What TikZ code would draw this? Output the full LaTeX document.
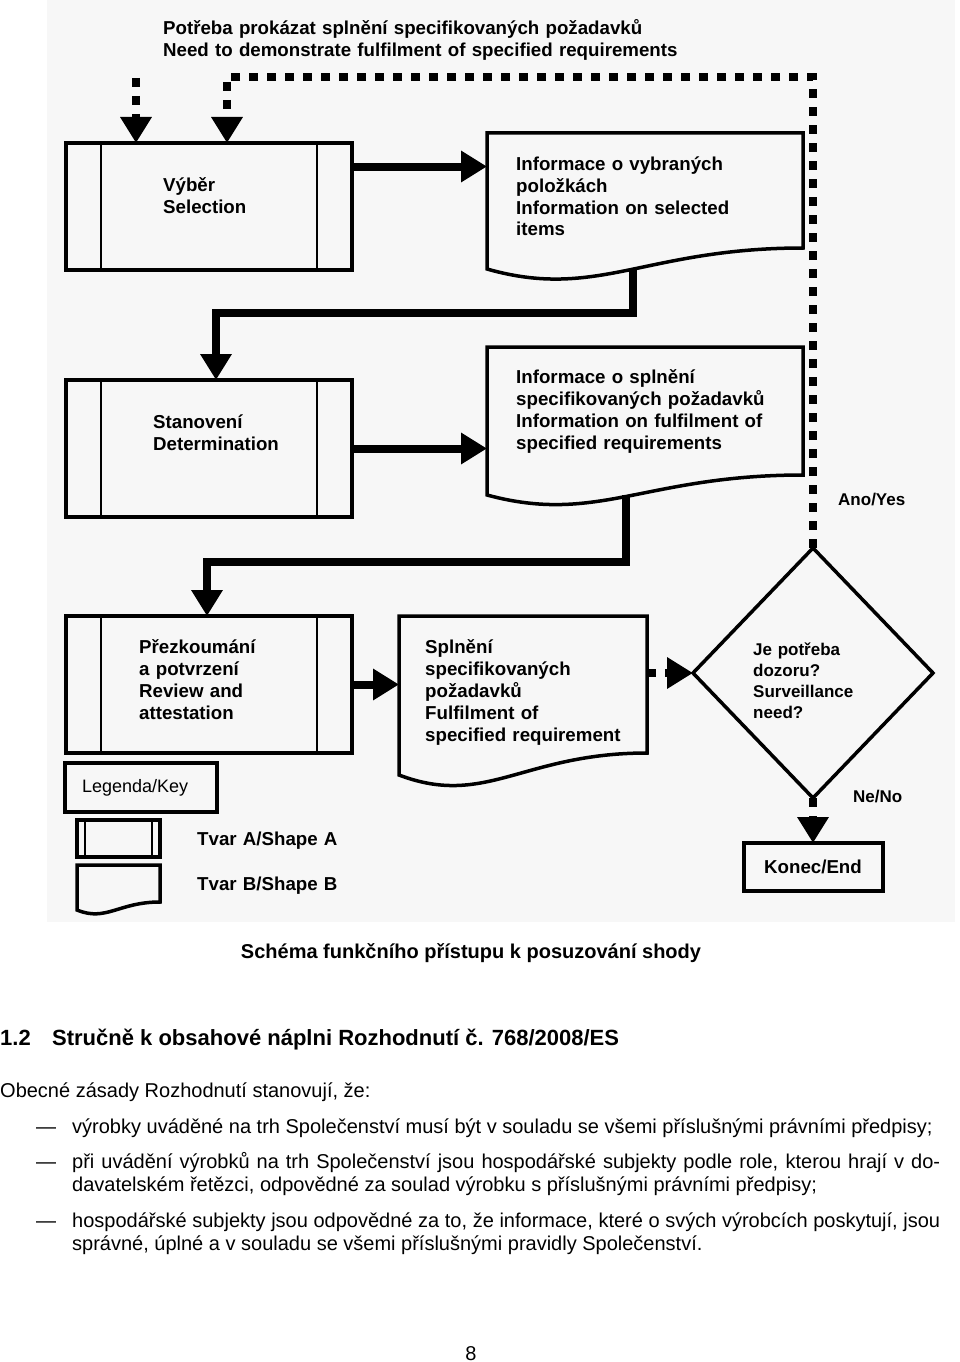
\documentclass[tikz,border=0pt]{standalone}
\usepackage{fontspec}
\setmainfont{Liberation Sans}
\usetikzlibrary{arrows.meta}
\usetikzlibrary{shapes.geometric}
\usetikzlibrary{positioning}
\usetikzlibrary{calc}
\tikzset{
  % Shape A: box with two inner bars
  shapeA/.style={draw, rectangle, line width=4pt, outer sep=0pt, inner sep=0pt,
    append after command={\pgfextra{\draw[line width=2.5pt]
      ($(\tikzlastnode.north west)+(#1,0)$) -- ($(\tikzlastnode.south west)+(#1,0)$)
      ($(\tikzlastnode.north east)+(-#1,0)$) -- ($(\tikzlastnode.south east)+(-#1,0)$);}}},
  % Shape B: document with a wavy bottom
  shapeB/.style={rectangle, outer sep=0pt, inner sep=0pt,
    append after command={\pgfextra{\draw[line width=3.5pt]
      (\tikzlastnode.south west) -- (\tikzlastnode.north west) -- (\tikzlastnode.north east)
      -- ($(\tikzlastnode.south east)+(0,-2*#1)$)
      .. controls ($(\tikzlastnode.south)+(0,-2*#1)$)
      and ($(\tikzlastnode.south west)!0.7!(\tikzlastnode.south)+(0,3*#1)$)
      .. (\tikzlastnode.south west) -- cycle;}}}
}

\begin{document}
\begin{tikzpicture}[x=1pt, y=-1pt, node distance=45pt]
    % Define styles
    \tikzstyle{flow} = [line width=8pt, -{Triangle[width=30pt,length=26pt]}]
    \tikzstyle{dashflow} = [line width=8pt, dash pattern=on 9pt off 9pt, -{Triangle[width=30pt,length=26pt]}]
    \tikzstyle{lbl} = [font=\bfseries\fontsize{18.7}{22}\selectfont, text width=560pt, align=left, anchor=base west, inner sep=0pt]
    \tikzstyle{body} = [font=\fontsize{20}{23.5}\selectfont, anchor=base west, inner sep=0pt]
    \tikzstyle{plainbox} = [draw, rectangle, line width=4pt, outer sep=0pt, inner sep=0pt]

    \useasboundingbox (0,0) rectangle (960,1362);
    \fill[black!3] (47,0) rectangle (955,922);

    % Place nodes
    \node [lbl] (need) at (163,35) {Potřeba prokázat splnění specifikovaných požadavků\\Need to demonstrate fulfilment of specified requirements};

    \node [shapeA=35, minimum width=286pt, minimum height=127pt] (sel) at (209,206.5) {};
    \node [shapeA=35, minimum width=286pt, minimum height=137pt] (det) at (209,448.5) {};
    \node [shapeA=35, minimum width=286pt, minimum height=137pt] (rev) at (209,684.5) {};
    \node [shapeB=10.5, minimum width=316pt, minimum height=136pt] (info1) at (645,201) {};
    \node [shapeB=10, minimum width=316pt, minimum height=148pt] (info2) at (645,421) {};
    \node [shapeB=11, minimum width=248pt, minimum height=159pt] (fulf) at (523,695.5) {};
    \node [diamond, draw, line width=3.5pt, inner sep=0pt, outer sep=0pt, minimum width=240pt, minimum height=250pt] (dec) at (813,673) {};
    \node [plainbox, minimum width=139pt, minimum height=48pt, font=\bfseries\fontsize{18.7}{22}\selectfont, below=of dec] (konec) {Konec/End};

    \node [lbl] (seltxt) at ([shift={(97,48)}]sel.north west) {Výběr\\Selection};
    \node [lbl] (dettxt) at ([shift={(87,48)}]det.north west) {Stanovení\\Determination};
    \node [lbl] (revtxt) at ([shift={(73,37)}]rev.north west) {Přezkoumání\\a potvrzení\\Review and\\attestation};
    \node [lbl] (info1txt) at ([shift={(29,37)}]info1.north west) {Informace o vybraných\\položkách\\Information on selected\\items};
    \node [lbl] (info2txt) at ([shift={(29,36)}]info2.north west) {Informace o splnění\\specifikovaných požadavků\\Information on fulfilment of\\specified requirements};
    \node [lbl] (fulftxt) at ([shift={(26,37)}]fulf.north west) {Splnění\\specifikovaných\\požadavků\\Fulfilment of\\specified requirement};
    \node [lbl, font=\bfseries\fontsize{17}{21}\selectfont] (dectxt) at (753,655) {Je potřeba\\dozoru?\\Surveillance\\need?};
    \node [lbl, font=\bfseries\fontsize{17}{21}\selectfont] (yes) at (838,505) {Ano/Yes};
    \node [lbl, font=\bfseries\fontsize{17}{21}\selectfont] (no) at (853,802) {Ne/No};

    % Key
    \node [plainbox, minimum width=152pt, minimum height=49pt, text width=118pt, align=left, font=\fontsize{18}{22}\selectfont] (key) at (141,787.5) {Legenda/Key};
    \node [shapeA=8, minimum width=83pt, minimum height=37pt] (keyA) at (118.5,838.5) {};
    \node [shapeB=4, minimum width=83pt, minimum height=45pt] (keyB) at (118.5,887.5) {};
    \node [lbl] (keyAtxt) at (197,845) {Tvar A/Shape A};
    \node [lbl] (keyBtxt) at (197,890) {Tvar B/Shape B};

    % Draw edges
    \coordinate (start) at (136,78);
    \draw [dashflow] (start) -- (start |- sel.north);
    \draw [dashflow] (dec.north) -- ++(0,-471) -| ([xshift=18pt]sel.north);
    \draw [flow] ([yshift=40pt]sel.east) -- ([yshift=40pt]sel.east -| info1.west);
    \draw [flow] ([xshift=146pt]info1.south west) -- ++(0,44) -| ([xshift=7pt]det.north);
    \draw [flow] (det.east) -- (det.east -| info2.west);
    \draw [flow] ([xshift=139pt]info2.south west) -- ++(0,67) -| ([xshift=-2pt]rev.north);
    \draw [flow] (rev.east) -- (rev.east -| fulf.west);
    \draw [dashflow] (dec.west -| fulf.east) -- (dec.west);
    \draw [dashflow] (dec.south) -- (konec.north);

    % Text below the scheme
    \node [font=\bfseries\fontsize{20}{24}\selectfont, anchor=base, inner sep=0pt] (caption) at (471,958) {Schéma funkčního přístupu k posuzování shody};
    \node [body, font=\bfseries\fontsize{22}{26}\selectfont] (heading) at (0,1045) {\makebox[52pt][l]{1.2}Stručně k obsahové náplni Rozhodnutí č. 768/2008/ES};
    \node [body] (intro) at (0,1097) {Obecné zásady Rozhodnutí stanovují, že:};
    \node [body] (dash1) at (36,1133) {—};
    \node [body] (dash2) at (36,1168) {—};
    \node [body] (dash3) at (36,1227) {—};
    \node [body, text width=868pt, align=justify] (item1) at (72,1133) {výrobky uváděné na trh Společenství musí být v souladu se všemi příslušnými právními předpisy;};
    \node [body, text width=868pt, align=justify] (item2) at (72,1168) {při uvádění výrobků na trh Společenství jsou hospodářské subjekty podle role, kterou hrají v do-\linebreak davatelském řetězci, odpovědné za soulad výrobku s příslušnými právními předpisy;};
    \node [body, text width=868pt, align=justify] (item3) at (72,1227) {hospodářské subjekty jsou odpovědné za to, že informace, které o svých výrobcích poskytují, jsou\linebreak správné, úplné a v souladu se všemi příslušnými pravidly Společenství.};
    \node [body, anchor=base] (pagenum) at (471,1360) {8};
\end{tikzpicture}
\end{document}
